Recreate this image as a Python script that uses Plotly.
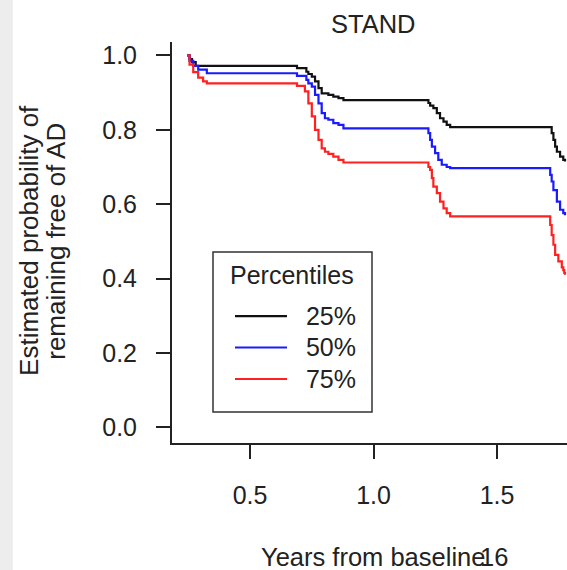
import plotly.graph_objects as go

# ---- data ----
series_names = ["25%", "50%", "75%"]

x_p25 = [0.245, 0.255, 0.265, 0.28, 0.69, 0.728, 0.736, 0.750, 0.763, 0.777, 0.790,
         0.817, 0.837, 0.858, 0.878, 1.222, 1.229, 1.242, 1.256, 1.269, 1.283, 1.296,
         1.310, 1.721, 1.728, 1.735, 1.742, 1.755, 1.768, 1.775]
y_p25 = [1.0, 0.99, 0.982, 0.972, 0.966, 0.956, 0.950, 0.943, 0.930, 0.912, 0.898,
         0.894, 0.889, 0.885, 0.880, 0.872, 0.865, 0.858, 0.845, 0.831, 0.822, 0.813,
         0.807, 0.791, 0.773, 0.755, 0.741, 0.728, 0.719, 0.715]

x_p50 = [0.245, 0.255, 0.27, 0.29, 0.325, 0.69, 0.728, 0.736, 0.750, 0.763, 0.777,
         0.790, 0.803, 0.817, 0.837, 0.858, 0.878, 1.222, 1.229, 1.236, 1.249, 1.262,
         1.276, 1.296, 1.310, 1.715, 1.721, 1.728, 1.742, 1.755, 1.768, 1.775]
y_p50 = [1.0, 0.985, 0.972, 0.962, 0.952, 0.945, 0.934, 0.925, 0.916, 0.894, 0.871,
         0.845, 0.831, 0.827, 0.818, 0.813, 0.804, 0.791, 0.773, 0.755, 0.737, 0.719,
         0.706, 0.700, 0.697, 0.679, 0.661, 0.638, 0.607, 0.585, 0.576, 0.570]

x_p75 = [0.245, 0.255, 0.27, 0.29, 0.31, 0.325, 0.69, 0.722, 0.736, 0.750, 0.763,
         0.777, 0.790, 0.803, 0.817, 0.837, 0.858, 0.878, 1.222, 1.229, 1.236, 1.242,
         1.256, 1.269, 1.283, 1.296, 1.310, 1.715, 1.721, 1.728, 1.735, 1.748, 1.762,
         1.768, 1.772, 1.775]
y_p75 = [1.0, 0.975, 0.955, 0.940, 0.930, 0.925, 0.918, 0.903, 0.871, 0.836, 0.800,
         0.773, 0.750, 0.741, 0.735, 0.728, 0.719, 0.712, 0.700, 0.692, 0.670, 0.647,
         0.630, 0.607, 0.589, 0.576, 0.567, 0.544, 0.517, 0.491, 0.464, 0.446, 0.430,
         0.423, 0.415, 0.410]

x_ticks = [0.5, 1.0, 1.5]
x_tick_labels = ["0.5", "1.0", "1.5"]
y_ticks = [0.0, 0.2, 0.4, 0.6, 0.8, 1.0]
y_tick_labels = ["0.0", "0.2", "0.4", "0.6", "0.8", "1.0"]
legend_title = "Percentiles"

FONT = "Liberation Sans, Arial, Helvetica, sans-serif"
AX = "#222222"
NB = "\u00a0"

fig = go.Figure()
for name, xs, ys, col in zip(series_names, [x_p25, x_p50, x_p75],
                             [y_p25, y_p50, y_p75],
                             ["#111111", "#1a1aff", "#ff2020"]):
    fig.add_trace(go.Scatter(
        x=xs, y=ys, mode="lines",
        name="<span style='font-size:25px'>" + NB * 2 + name + NB + "</span>",
        line=dict(color=col, width=2.2, shape="hv")))

fig.update_layout(
    width=567, height=570,
    margin=dict(l=172, r=0, t=42, b=127),
    paper_bgcolor="white", plot_bgcolor="white",
    font=dict(family=FONT, size=24, color="#222"),
    showlegend=True,
    legend=dict(
        x=0.1038, y=0.3683, xanchor="left", yanchor="top",
        borderwidth=0, bgcolor="rgba(0,0,0,0)",
        font=dict(size=21.9, color="#222"),
        itemwidth=52, indentation=17,
    ),
    xaxis=dict(range=[0.184, 1.783], tickvals=x_ticks, ticktext=x_tick_labels,
               showgrid=False, zeroline=False, showline=True, linecolor=AX, linewidth=2,
               ticks="outside", ticklen=14, tickwidth=2, tickcolor=AX,
               tickfont=dict(size=25, color="#222"), ticklabelstandoff=15),
    yaxis=dict(range=[-0.042, 1.036], tickvals=y_ticks, ticktext=y_tick_labels,
               showgrid=False, zeroline=False, showline=True, linecolor=AX, linewidth=2,
               ticks="outside", ticklen=14, tickwidth=2, tickcolor=AX,
               tickfont=dict(size=25, color="#222"), ticklabelstandoff=14),
)

# legend frame
fig.add_shape(type="rect", xref="paper", yref="paper", x0=0.1038, x1=0.5063,
              y0=0.0773, y1=0.4763, fillcolor="rgba(0,0,0,0)",
              line=dict(color="#333", width=1.5), layer="above")

# light slide strip on the far left
fig.add_shape(type="rect", xref="paper", yref="paper", x0=-0.436, x1=-0.403,
              y0=-0.32, y1=1.11, fillcolor="#ededed", line=dict(width=0), layer="below")

ann = [
    dict(text="STAND", x=0.511, y=1.045, font=dict(size=25.5)),
    dict(text="Years from baseline", x=0.509, y=-0.284, font=dict(size=25.5)),
    dict(text="16", x=0.815, y=-0.284, font=dict(size=25.5)),
    dict(text=legend_title, x=0.305, y=0.419, font=dict(size=25)),
    dict(text="Estimated probability of", x=-0.362, y=0.504, textangle=-90, font=dict(size=26)),
    dict(text="remaining free of AD", x=-0.294, y=0.504, textangle=-90, font=dict(size=26)),
]
for a in ann:
    fig.add_annotation(xref="paper", yref="paper", showarrow=False,
                       xanchor="center", yanchor="middle", **a)

fig.write_html("out.html", config={"displayModeBar": False},
               post_script="document.body.style.margin='0';")
